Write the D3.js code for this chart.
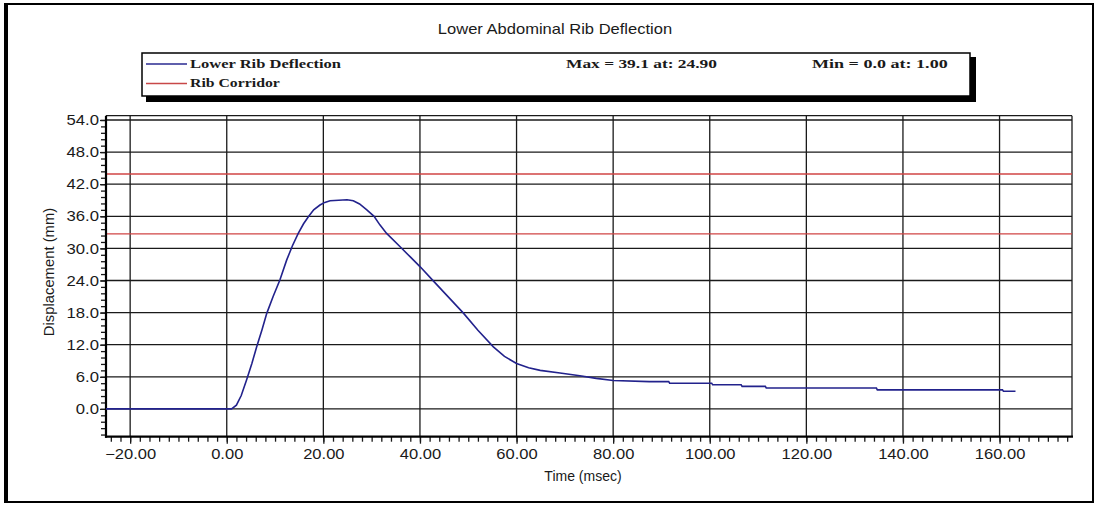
<!DOCTYPE html>
<html><head><meta charset="utf-8">
<script src="https://cdn.jsdelivr.net/npm/d3@7"></script>
<style>
html,body{margin:0;padding:0;background:#fff;}
svg{display:block;}
</style></head>
<body>
<svg id="chart" width="1099" height="506"></svg>
<script>
// ---- data ----
const title = "Lower Abdominal Rib Deflection";
const xLabel = "Time (msec)";
const yLabel = "Displacement (mm)";
const seriesNames = ["Lower Rib Deflection", "Rib Corridor"];
const statsText = ["Max = 39.1 at: 24.90", "Min = 0.0 at: 1.00"];
const xTicks = [-20, 0, 20, 40, 60, 80, 100, 120, 140, 160];
const yTicks = [0, 6, 12, 18, 24, 30, 36, 42, 48, 54];
const corridor = [32.7, 43.9];
const time = [-25, 1.0, 2.0, 3.0, 4.1, 5.2, 6.2, 7.3, 8.3, 9.6, 11.0, 12.4, 13.6, 14.8, 15.9, 16.9, 18.0, 19.3, 20.3, 21.4, 24.9, 26.2, 27.5, 29.0, 30.5, 31.7, 33.1, 35.9, 38.0, 40.0, 43.0, 46.0, 49.0, 52.0, 55.2, 57.5, 60.0, 62.5, 64.9, 69.0, 73.1, 76.5, 80.0, 87.5, 91.5, 91.7, 100.4, 100.6, 106.5, 106.7, 111.5, 111.7, 134.5, 134.7, 160.6, 160.8, 163.3];
const disp = [0, 0, 0.7, 2.5, 5.4, 8.5, 11.6, 14.8, 17.9, 21.0, 24.1, 27.8, 30.5, 32.8, 34.6, 35.9, 37.2, 38.1, 38.6, 38.9, 39.1, 38.9, 38.3, 37.2, 36.0, 34.4, 32.8, 30.3, 28.4, 26.6, 23.7, 20.8, 17.9, 14.7, 11.6, 9.8, 8.5, 7.7, 7.2, 6.7, 6.2, 5.7, 5.3, 5.1, 5.1, 4.8, 4.8, 4.5, 4.5, 4.2, 4.2, 3.9, 3.9, 3.55, 3.55, 3.3, 3.3];

// ---- layout ----
const svg = d3.select("#chart");
const W = 1099, H = 506;
const L = 106, R = 1072, T = 115.7, B = 436.7;
const x = d3.scaleLinear().domain([-25, 175]).range([L, R]);
const y = d3.scaleLinear().domain([-5.2, 54.8]).range([B, T]);
const ink = "#1a1a1a";
const sans = "'Liberation Sans', Arial, sans-serif";
const serif = "'Liberation Serif', 'Times New Roman', serif";
const monoAdvance = 7.65; // px per character of the legend's fixed-pitch look

function stretch(sel, k) {
  sel.each(function () {
    const w = this.getComputedTextLength();
    d3.select(this).attr("textLength", w * k).attr("lengthAdjust", "spacingAndGlyphs");
  });
}
function fixedPitch(sel) {
  sel.each(function () {
    const n = this.textContent.length;
    d3.select(this).attr("textLength", n * monoAdvance - 2).attr("lengthAdjust", "spacingAndGlyphs");
  });
}

svg.append("rect").attr("width", W).attr("height", H).attr("fill", "#fff");
// outer frame
svg.append("rect").attr("x", 5).attr("y", 4).attr("width", 1088).attr("height", 498)
  .attr("fill", "none").attr("stroke", "#000").attr("stroke-width", 2);
svg.append("line").attr("x1", 6).attr("x2", 6).attr("y1", 3).attr("y2", 503)
  .attr("stroke", "#000").attr("stroke-width", 4);

// title
svg.append("text").attr("x", 555).attr("y", 34).attr("text-anchor", "middle")
  .attr("font-family", sans).attr("font-size", 14.5).attr("fill", ink).text(title)
  .call(stretch, 1.14);

// legend box with shadow
const lg = svg.append("g");
lg.append("rect").attr("x", 146).attr("y", 57).attr("width", 830).attr("height", 45).attr("fill", "#000");
lg.append("rect").attr("x", 142).attr("y", 53).attr("width", 828).attr("height", 43)
  .attr("fill", "#fff").attr("stroke", "#000").attr("stroke-width", 1.5);
const legColors = ["#2a2a90", "#c84848"];
seriesNames.forEach((n, i) => {
  const ly = 64 + i * 19.5;
  lg.append("line").attr("x1", 146).attr("x2", 187).attr("y1", ly).attr("y2", ly)
    .attr("stroke", legColors[i]).attr("stroke-width", 1.5);
  lg.append("text").attr("x", 190).attr("y", ly + 3.5).attr("font-family", serif)
    .attr("font-size", 13).attr("font-weight", "bold").attr("fill", ink).text(n)
    .call(fixedPitch);
});
[566, 812].forEach((px, i) => {
  lg.append("text").attr("x", px).attr("y", 67.5).attr("font-family", serif)
    .attr("font-size", 13).attr("font-weight", "bold").attr("fill", ink).text(statsText[i])
    .call(fixedPitch);
});

// grid
const g = svg.append("g");
g.selectAll(".vg").data(xTicks).join("line")
  .attr("x1", d => x(d)).attr("x2", d => x(d)).attr("y1", T).attr("y2", B)
  .attr("stroke", ink).attr("stroke-width", 1.3);
g.selectAll(".hg").data(yTicks).join("line")
  .attr("x1", L).attr("x2", R).attr("y1", d => y(d)).attr("y2", d => y(d))
  .attr("stroke", ink).attr("stroke-width", 1.3);
// plot border top/right
g.append("line").attr("x1", L).attr("x2", R).attr("y1", T).attr("y2", T).attr("stroke", ink).attr("stroke-width", 1.3);
g.append("line").attr("x1", R).attr("x2", R).attr("y1", T).attr("y2", B).attr("stroke", ink).attr("stroke-width", 1.3);

// corridor
g.selectAll(".cor").data(corridor).join("line")
  .attr("x1", L).attr("x2", R).attr("y1", d => y(d)).attr("y2", d => y(d))
  .attr("stroke", "#d04545").attr("stroke-width", 1.3);

// axes with minor ticks
const yMinor = d3.range(-4.8, 54.01, 1.2);
const xMinor = d3.range(-24, 175.01, 2);
const yAx = svg.append("g").attr("transform", `translate(${L},0)`)
  .call(d3.axisLeft(y).tickValues(yMinor).tickSize(5).tickFormat(""));
yAx.select(".domain").remove();
yAx.selectAll("line").attr("stroke", ink).attr("stroke-width", 1.3);
const xAx = svg.append("g").attr("transform", `translate(0,${B})`)
  .call(d3.axisBottom(x).tickValues(xMinor).tickSize(5).tickFormat(""));
xAx.select(".domain").remove();
xAx.selectAll("line").attr("stroke", ink).attr("stroke-width", 1.3);

const yLab = svg.append("g").attr("transform", `translate(${L},0)`)
  .call(d3.axisLeft(y).tickValues(yTicks).tickSize(6).tickPadding(1).tickFormat(d3.format(".1f")));
yLab.select(".domain").remove();
yLab.selectAll("line").attr("stroke", ink).attr("stroke-width", 1.3);
yLab.selectAll("text").attr("font-family", sans).attr("font-size", 14.5).attr("fill", ink)
  .call(stretch, 1.15);

const xLab = svg.append("g").attr("transform", `translate(0,${B})`)
  .call(d3.axisBottom(x).tickValues(xTicks).tickSize(7).tickPadding(5).tickFormat(d3.format(".2f")));
xLab.select(".domain").remove();
xLab.selectAll("line").attr("stroke", ink).attr("stroke-width", 1.3);
xLab.selectAll("text").attr("font-family", sans).attr("font-size", 14.5).attr("fill", ink)
  .call(stretch, 1.14);

// axis lines
svg.append("line").attr("x1", L).attr("x2", L).attr("y1", T).attr("y2", B + 1).attr("stroke", "#000").attr("stroke-width", 2.2);
svg.append("line").attr("x1", L - 1).attr("x2", R + 1).attr("y1", B).attr("y2", B).attr("stroke", "#000").attr("stroke-width", 2.2);

// series
const pts = time.map((t, i) => [t, disp[i]]);
svg.append("path").datum(pts)
  .attr("d", d3.line().x(d => x(d[0])).y(d => y(d[1])))
  .attr("fill", "none").attr("stroke", "#22228c").attr("stroke-width", 1.6);

// axis titles
svg.append("text").attr("x", 583).attr("y", 481).attr("text-anchor", "middle")
  .attr("font-family", sans).attr("font-size", 14).attr("fill", ink).text(xLabel);
svg.append("text").attr("transform", `translate(54,272) rotate(-90)`)
  .attr("text-anchor", "middle").attr("font-family", sans).attr("font-size", 14.8).attr("fill", ink).text(yLabel);
</script>
</body></html>
